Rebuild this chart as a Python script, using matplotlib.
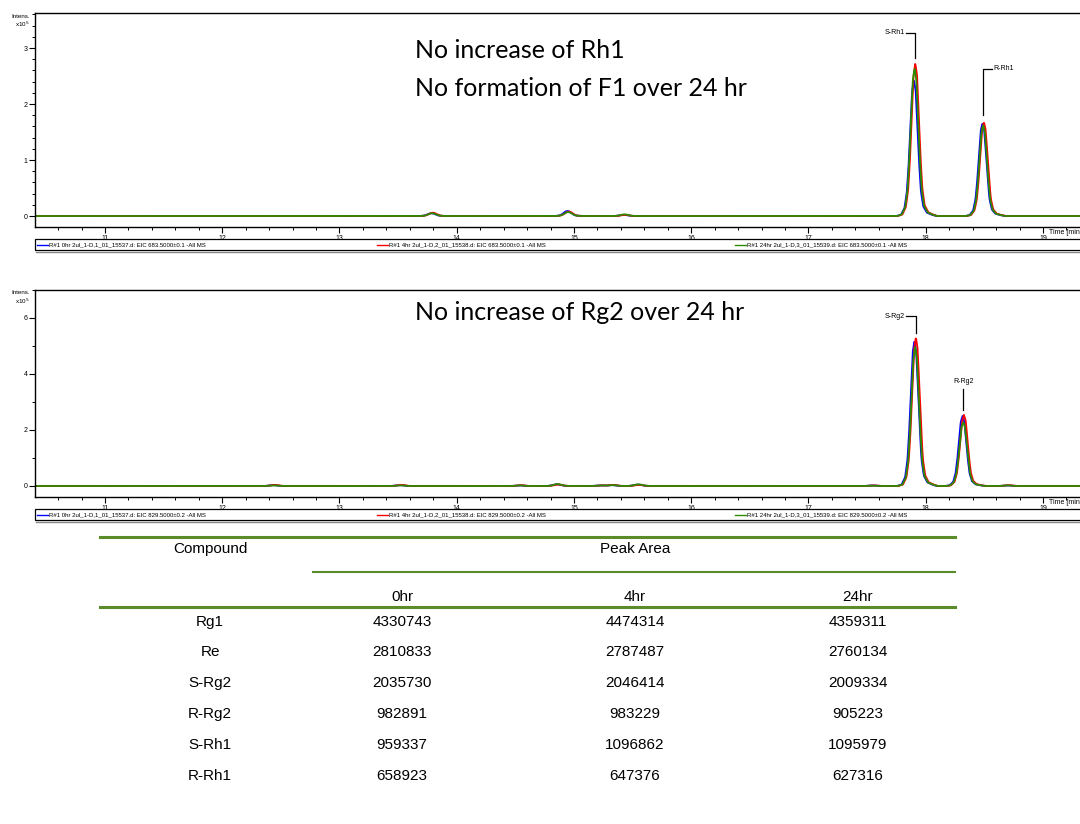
import numpy as np
import matplotlib
matplotlib.use('Agg')
from matplotlib import pyplot as plt
from matplotlib.ticker import MultipleLocator
from matplotlib.lines import Line2D
from matplotlib.patches import Rectangle

# peak shape (offset in min, fraction of peak height)
prof_dt = [-0.15, -0.11, -0.08, -0.06, -0.045, -0.03, -0.015, 0.0,
           0.015, 0.03, 0.045, 0.06, 0.08, 0.11, 0.15, 0.19]
prof_rel = [0.0, 0.01, 0.06, 0.18, 0.38, 0.66, 0.92, 1.0,
            0.92, 0.66, 0.38, 0.18, 0.07, 0.025, 0.01, 0.0]

# EIC 683.5 (Rh1), intensities in 1e5
rh1_times = [13.79, 14.95, 15.43, 17.905, 18.49]
rh1_0hr = [0.05, 0.09, 0.02, 2.43, 1.66]
rh1_4hr = [0.06, 0.08, 0.02, 2.73, 1.68]
rh1_24hr = [0.05, 0.07, 0.03, 2.64, 1.62]

# EIC 829.5 (Rg2), intensities in 1e5
rg2_times = [12.44, 13.52, 14.54, 14.86, 15.23, 15.33, 15.55, 17.55, 17.91, 18.32, 18.70]
rg2_0hr = [0.03, 0.03, 0.02, 0.06, 0.02, 0.03, 0.05, 0.02, 5.20, 2.50, 0.02]
rg2_4hr = [0.04, 0.04, 0.03, 0.05, 0.02, 0.04, 0.04, 0.02, 5.32, 2.54, 0.03]
rg2_24hr = [0.02, 0.02, 0.02, 0.07, 0.02, 0.03, 0.06, 0.01, 4.96, 2.29, 0.02]

shifts = {'0hr': -0.006, '4hr': 0.006, '24hr': 0.0}
colors = {'0hr': '#0000ff', '4hr': '#ff0000', '24hr': '#2e8b00'}

files = ['R#1 0hr 2ul_1-D,1_01_15537.d', 'R#1 4hr 2ul_1-D,2_01_15538.d',
         'R#1 24hr 2ul_1-D,3_01_15539.d']

compounds = ['Rg1', 'Re', 'S-Rg2', 'R-Rg2', 'S-Rh1', 'R-Rh1']
area_0hr = [4330743, 2810833, 2035730, 982891, 959337, 658923]
area_4hr = [4474314, 2787487, 2046414, 983229, 1096862, 647376]
area_24hr = [4359311, 2760134, 2009334, 905223, 1095979, 627316]

plt.rcParams['font.family'] = ['Liberation Sans', 'DejaVu Sans']
W, H = 1080, 824
fig = plt.figure(figsize=(W / 100, H / 100), dpi=100)


def fx(px):
    return px / W


def fy(py):
    return 1 - py / H


grid = np.arange(10.35, 19.45, 0.004)


def trace(times, heights, shift):
    y = np.zeros_like(grid)
    for t, h in zip(times, heights):
        y += h * np.interp(grid - t - shift, prof_dt, prof_rel, left=0, right=0)
    return y


def chrom(top, bottom, ylim, ymaj, ymin, times, series, eic):
    ax = fig.add_axes([fx(35), fy(bottom), fx(1090 - 35), (bottom - top) / H])
    for key, vals in zip(['0hr', '4hr', '24hr'], series):
        ax.plot(grid, trace(times, vals, shifts[key]), color=colors[key], lw=1.3)
    ax.set_xlim(10.403, 19.401)
    ax.set_ylim(*ylim)
    ax.set_xticks(list(range(11, 20)))
    ax.xaxis.set_minor_locator(MultipleLocator(0.2))
    ax.yaxis.set_major_locator(MultipleLocator(ymaj))
    ax.yaxis.set_minor_locator(MultipleLocator(ymin))
    ax.tick_params(which='major', length=4, width=0.8, labelsize=5, pad=1.5)
    ax.tick_params(which='minor', length=2.5, width=0.7)
    for s in ax.spines.values():
        s.set_linewidth(1.0)
    fig.text(fx(1049), fy(bottom + 6), 'Time [min]', fontsize=5, va='center', ha='left')
    fig.text(fx(30), fy(top + 3), 'Intens.', fontsize=4.5, ha='right', va='center')
    fig.text(fx(30), fy(top + 11), r'x10$^5$', fontsize=4.5, ha='right', va='center')
    # legend strip
    ly0 = bottom + 12
    fig.add_artist(Rectangle((fx(35), fy(ly0 + 11)), fx(1100 - 35), 11 / H,
                             transform=fig.transFigure, fill=False, ec='black', lw=0.9))
    fig.add_artist(Line2D([fx(36), fx(1100)], [fy(ly0 + 12.5)] * 2,
                          transform=fig.transFigure, color='#888888', lw=1.0))
    for x0, key, name in zip([37, 377, 735], ['0hr', '4hr', '24hr'], files):
        fig.add_artist(Line2D([fx(x0), fx(x0 + 11)], [fy(ly0 + 5.5)] * 2,
                              transform=fig.transFigure, color=colors[key], lw=1.0))
        fig.text(fx(x0 + 12), fy(ly0 + 5.5), name + ': ' + eic + ' -All MS',
                 fontsize=4.3, va='center', ha='left')
    return ax


ax1 = chrom(13, 227, (-0.196, 3.625), 1, 0.2, rh1_times,
            [rh1_0hr, rh1_4hr, rh1_24hr], 'EIC 683.5000±0.1')
ax2 = chrom(290, 497, (-0.393, 7.0), 2, 1, rg2_times,
            [rg2_0hr, rg2_4hr, rg2_24hr], 'EIC 829.5000±0.2')

# peak labels
lab = dict(color='black', lw=0.9)
ax1.plot([17.83, 17.905, 17.905], [3.27, 3.27, 2.83], **lab)
ax1.text(17.82, 3.27, 'S-Rh1', fontsize=5, ha='right', va='center')
ax1.plot([18.565, 18.49, 18.49], [2.63, 2.63, 1.80], **lab)
ax1.text(18.575, 2.63, 'R-Rh1', fontsize=5, ha='left', va='center')
ax2.plot([17.835, 17.915, 17.915], [6.07, 6.07, 5.45], **lab)
ax2.text(17.825, 6.07, 'S-Rg2', fontsize=5, ha='right', va='center')
ax2.plot([18.32, 18.32], [3.46, 2.71], **lab)
ax2.text(18.32, 3.62, 'R-Rg2', fontsize=5, ha='center', va='bottom')

# annotations
note = dict(fontsize=18, family=['Lato', 'DejaVu Sans'], ha='left', va='center')
fig.text(fx(415), fy(50), 'No increase of Rh1', **note)
fig.text(fx(415), fy(89), 'No formation of F1 over 24 hr', **note)
fig.text(fx(415), fy(312), 'No increase of Rg2 over 24 hr', **note)

# table
green = '#5b8c2a'
fig.add_artist(Line2D([fx(100), fx(955)], [fy(537)] * 2, transform=fig.transFigure,
                      color=green, lw=2.2))
fig.add_artist(Line2D([fx(313), fx(955)], [fy(572)] * 2, transform=fig.transFigure,
                      color=green, lw=1.5))
fig.add_artist(Line2D([fx(100), fx(955)], [fy(607)] * 2, transform=fig.transFigure,
                      color=green, lw=2.2))
tfont = dict(fontsize=11, ha='center', va='center')
col_x = [210, 402, 635, 858]
fig.text(fx(col_x[0]), fy(549), 'Compound', **tfont)
fig.text(fx(635), fy(549), 'Peak Area', **tfont)
for x, h in zip(col_x[1:], ['0hr', '4hr', '24hr']):
    fig.text(fx(x), fy(597), h, **tfont)
row_y = [622, 652, 683, 714, 745, 776]
for i, y in enumerate(row_y):
    vals = [compounds[i], area_0hr[i], area_4hr[i], area_24hr[i]]
    for x, v in zip(col_x, vals):
        fig.text(fx(x), fy(y), str(v), **tfont)

fig.savefig('out.png', dpi=100)
